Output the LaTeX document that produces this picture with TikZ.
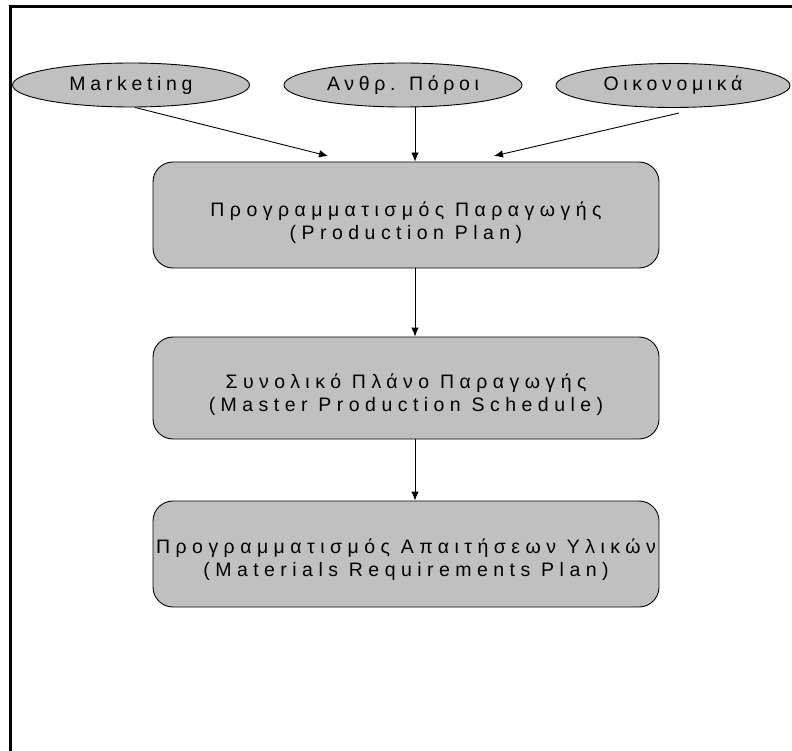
\documentclass[tikz,border=0pt]{standalone}
\usepackage{fontspec}
\setmainfont{Liberation Sans}[LetterSpace=24]
\newfontfamily\stagefont{Liberation Sans}[LetterSpace=28]
\usetikzlibrary{shapes.geometric,arrows.meta}
\begin{document}
\begin{tikzpicture}[x=1pt,y=-1pt,
  src/.style={ellipse,draw=black,fill=boxgray,line width=0.9pt,inner sep=0pt,
    minimum height=44pt,font=\fontsize{19.5}{23}\selectfont},
  stage/.style={rectangle,rounded corners=20pt,draw=black,fill=boxgray,line width=0.9pt,
    minimum width=506pt},
  stagetext/.style={align=center,inner sep=0pt,font=\stagefont\fontsize{19.5}{23}\selectfont},
  arr/.style={line width=0.9pt,-{Latex[length=9pt,width=7.5pt]}},
  frame/.style={line width=2.5pt}]
\definecolor{boxgray}{HTML}{C0C0C0}
\useasboundingbox (0,0) rectangle (792,751);
\draw[frame] (10.5,751) -- (10.5,6.5) -- (792,6.5);

\node[src,minimum width=237pt] (m) at (131,85) {Marketing};
\node[src,minimum width=238pt] (h) at (403,85) {Ανθρ. Πόροι};
\node[src,minimum width=234pt] (o) at (673,85.5) {Οικονομικά};

\node[stage,minimum height=106pt] (p1) at (406,215) {};
\node[stage,minimum height=102pt] (p2) at (406,388) {};
\node[stage,minimum height=106pt] (p3) at (406,554) {};
\node[stagetext] (p1t) at ([yshift=-8pt]p1.center) {Προγραμματισμός Παραγωγής\\(Production Plan)};
\node[stagetext] (p2t) at ([yshift=-7pt]p2.center) {Συνολικό Πλάνο Παραγωγής\\(Master Production Schedule)};
\node[stagetext] (p3t) at ([yshift=-6pt]p3.center) {Προγραμματισμός Απαιτήσεων Υλικών\\(Materials Requirements Plan)};

\coordinate (cx) at (415,0);
\coordinate (t1) at (328,156);
\coordinate (t3) at (494,156);
\coordinate (s3) at (679,113);

\draw[arr] ([xshift=4pt]m.south) -- (t1);
\draw[arr] (h.south -| cx) -- (p1.north -| cx);
\draw[arr] (s3) -- (t3);
\draw[arr] (p1.south -| cx) -- (p2.north -| cx);
\draw[arr] (p2.south -| cx) -- (p3.north -| cx);
\end{tikzpicture}
\end{document}
